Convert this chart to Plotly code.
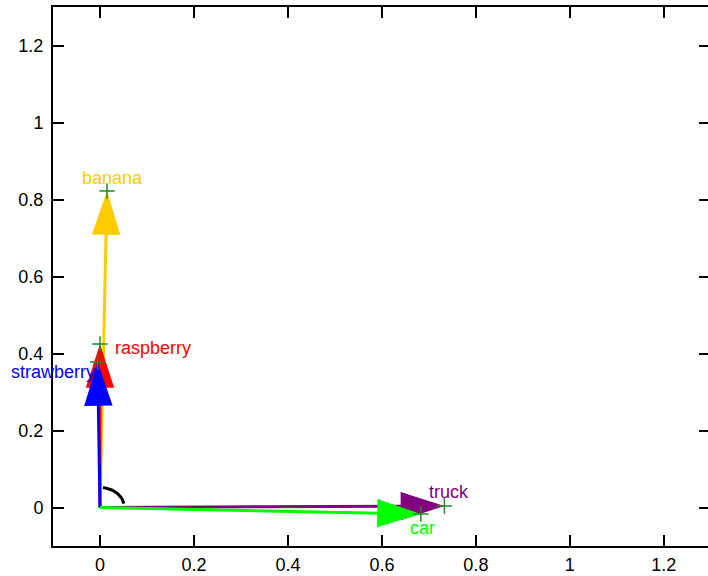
import numpy as np
import plotly.graph_objects as go

# ---- data ----
names = ["banana", "raspberry", "strawberry", "truck", "car"]
tip_x = [0.015, 0.0, -0.005, 0.733, 0.683]
tip_y = [0.822, 0.425, 0.378, 0.004, -0.017]
colors = ["#FFCC00", "#FF0000", "#0000FF", "#800080", "#00FF00"]

# label placement (pixel offsets from the tip) - style only
lab_anchor = ["center", "left", "right", "center", "center"]
lab_dx = [5, 13, -1, 5, 2]
lab_dy = [13, -4, -10, 14, -14]

x_ticks = [0, 0.2, 0.4, 0.6, 0.8, 1, 1.2]
y_ticks = [0, 0.2, 0.4, 0.6, 0.8, 1, 1.2]
x_range = [-0.1, 1.294]
y_range = [-0.1, 1.3]

arc_radius = 0.052
arc_start_deg = 11
arc_end_deg = 83

FONT = "Liberation Sans, Arial, sans-serif"

fig = go.Figure()

# arrows: shaft from origin to tip, arrowhead marker at tip
for n, tx, ty, c in zip(names, tip_x, tip_y, colors):
    fig.add_trace(go.Scatter(
        x=[0, tx], y=[0, ty], mode="lines+markers",
        line=dict(color=c, width=3),
        marker=dict(symbol="arrow", size=[0, 46], angleref="previous",
                    color=c, opacity=1, line=dict(width=0)),
        opacity=1,
        hoverinfo="skip", showlegend=False, name=n))

# angle arc near origin
t = np.radians(np.linspace(arc_start_deg, arc_end_deg, 40))
fig.add_trace(go.Scatter(
    x=arc_radius * np.cos(t), y=arc_radius * np.sin(t), mode="lines",
    line=dict(color="black", width=3), hoverinfo="skip", showlegend=False))

# "+" markers at tips
fig.add_trace(go.Scatter(
    x=tip_x, y=tip_y, mode="markers",
    marker=dict(symbol="cross-thin", size=11, line=dict(color="#228B22", width=1.5)),
    hoverinfo="skip", showlegend=False))

# invisible trace on y2 for right-side ticks
fig.add_trace(go.Scatter(x=[0], y=[0], yaxis="y2", mode="markers",
                         marker=dict(opacity=0), hoverinfo="skip", showlegend=False))

for n, tx, ty, c, a, dx, dy in zip(names, tip_x, tip_y, colors, lab_anchor, lab_dx, lab_dy):
    fig.add_annotation(x=tx, y=ty, text=n, showarrow=False, xanchor=a, yanchor="middle",
                       xshift=dx, yshift=dy, font=dict(family=FONT, size=18, color=c))

axis_common = dict(ticks="inside", ticklen=11, tickwidth=1.5, tickcolor="black",
                   showgrid=False, zeroline=False, automargin=False,
                   tickfont=dict(family=FONT, size=18, color="black"))

fig.update_layout(
    width=708, height=576,
    margin=dict(l=53, r=0, t=7, b=30, autoexpand=False),
    plot_bgcolor="white", paper_bgcolor="white",
    xaxis=dict(range=x_range, tickvals=x_ticks, ticktext=[f"{v:g}" for v in x_ticks],
               showline=True, linecolor="black", linewidth=2, mirror="ticks",
               ticklabelstandoff=1, **axis_common),
    yaxis=dict(range=y_range, tickvals=y_ticks, ticktext=[f"{v:g}" for v in y_ticks],
               showline=True, linecolor="black", linewidth=2, mirror=False,
               ticklabelstandoff=4, **axis_common),
    yaxis2=dict(range=y_range, tickvals=y_ticks, overlaying="y", side="right",
                showticklabels=False, showline=False, ticks="inside", ticklen=9,
                tickwidth=1.5, tickcolor="black", showgrid=False, zeroline=False,
                automargin=False),
)

fig.write_html("out.html")
